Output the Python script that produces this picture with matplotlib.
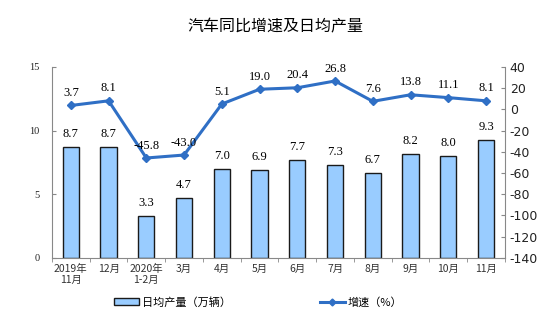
import matplotlib.pyplot as plt
from matplotlib.lines import Line2D
from matplotlib.patches import Patch
import numpy as np

plt.rcParams['font.family'] = ['Liberation Serif', 'Noto Sans CJK SC']
plt.rcParams['axes.unicode_minus'] = False

months = ['2019年\n11月', '12月', '2020年\n1-2月', '3月', '4月', '5月',
          '6月', '7月', '8月', '9月', '10月', '11月']
daily_output = [8.7, 8.7, 3.3, 4.7, 7.0, 6.9, 7.7, 7.3, 6.7, 8.2, 8.0, 9.3]
growth = [3.7, 8.1, -45.8, -43.0, 5.1, 19.0, 20.4, 26.8, 7.6, 13.8, 11.1, 8.1]

bar_color = '#99CCFF'
line_color = '#2F6FC5'
spine_color = '#888888'

fig = plt.figure(figsize=(5.5, 3.22), dpi=100)
ax = fig.add_axes([0.0945, 0.199, 0.8235, 0.593])
ax2 = ax.twinx()

x = np.arange(len(months))
ax.bar(x, daily_output, width=0.43, color=bar_color, edgecolor='#1a1a1a', linewidth=1.0, zorder=2)
for xi, v in zip(x, daily_output):
    ax.text(xi, v + 0.55, f'{v:.1f}', ha='center', va='bottom', fontsize=9)

ax.set_xlim(-0.5, len(months) - 0.5)
ax.set_ylim(0, 15)
ax.set_yticks([0, 5, 10, 15])
ax.tick_params(axis='y', direction='in', length=3, labelsize=7.5, colors=spine_color, labelcolor='#222222', pad=9)
ax.set_xticks(x)
ax.set_xticklabels(months, fontsize=7.5, color='#333333', family=['Noto Sans CJK SC'])
ax.set_xticks(np.arange(-0.5, len(months)), minor=True)
ax.tick_params(axis='x', which='major', length=0, pad=4)
ax.tick_params(axis='x', which='minor', length=3, direction='out', colors=spine_color)
for s in ['top', 'right']:
    ax.spines[s].set_visible(False)
for s in ['left', 'bottom']:
    ax.spines[s].set_color(spine_color)

ax2.plot(x, growth, color=line_color, linewidth=2.2, marker='D', markersize=4, zorder=3)
for xi, v in zip(x, growth):
    ax2.text(xi, v + 6, f'{v:.1f}', ha='center', va='bottom', fontsize=9)
ax2.set_ylim(-140, 40)
ax2.set_yticks(np.arange(-140, 41, 20))
ax2.tick_params(axis='y', direction='in', length=3, labelsize=9, colors=spine_color, labelcolor='#222222')
for lbl in ax2.get_yticklabels():
    lbl.set_family(['DejaVu Sans'])
for s in ['top', 'left', 'bottom']:
    ax2.spines[s].set_visible(False)
ax2.spines['right'].set_color(spine_color)

fig.text(0.5, 0.915, '汽车同比增速及日均产量', ha='center', va='center', fontsize=11.5,
         family=['Noto Sans CJK SC'])

handles = [Patch(facecolor=bar_color, edgecolor='#1a1a1a', linewidth=1.0),
           Line2D([0], [0], color=line_color, linewidth=2.2, marker='D', markersize=3.5)]
labels = ['日均产量（万辆）', '增速（%）']
fig.legend(handles, labels, loc='center', bbox_to_anchor=(0.47, 0.062), ncol=2, frameon=False,
           prop={'family': ['Noto Sans CJK SC'], 'size': 8}, columnspacing=8, handlelength=2.2,
           handletextpad=0.3)

fig.savefig('out.png', dpi=100)
